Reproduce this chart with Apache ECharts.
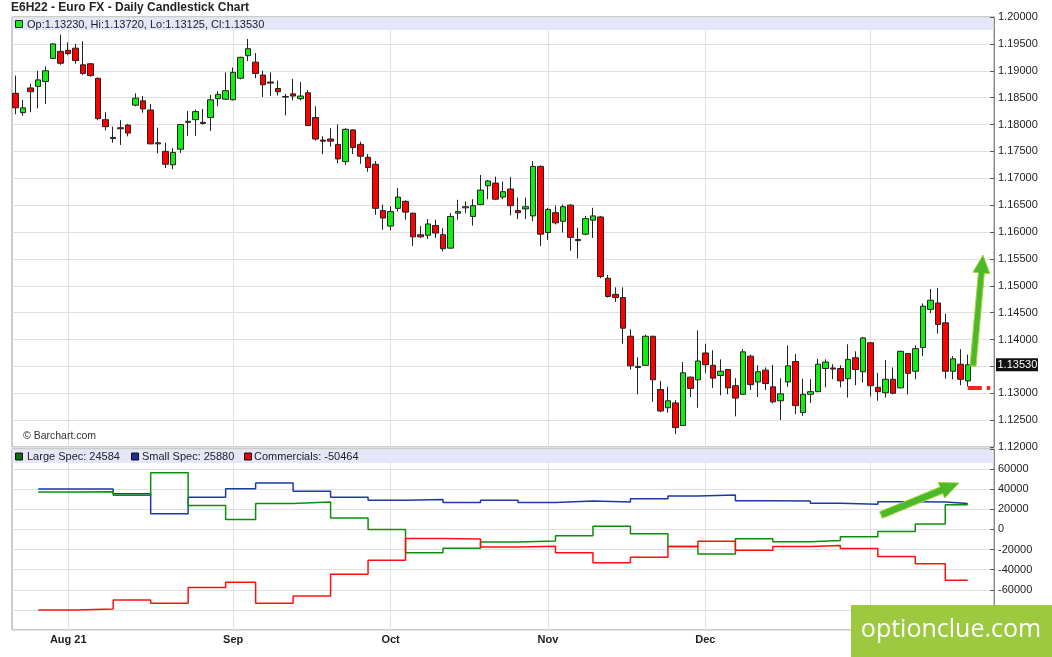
<!DOCTYPE html>
<html style="height: 100%">

<head>
  <meta charset="UTF-8" />
  <title>E6H22 - Euro FX - Daily Candlestick Chart</title>
  <script src="https://cdn.jsdelivr.net/npm/echarts@6/dist/echarts.min.js"></script>
</head>

<body style="height: 100%; margin: 0; background: #fff">
  <div id="main" style="width: 1052px; height: 657px"></div>
  <script>
    // trading sessions (last three are empty space on the right)
    const dates = [
      '2021-07-22', '2021-07-23', '2021-07-26', '2021-07-27', '2021-07-28', '2021-07-29', '2021-07-30',
      '2021-08-02', '2021-08-03', '2021-08-04', '2021-08-05', '2021-08-06', '2021-08-09', '2021-08-10',
      '2021-08-11', '2021-08-12', '2021-08-13', '2021-08-16', '2021-08-17', '2021-08-18', '2021-08-19',
      '2021-08-20', '2021-08-23', '2021-08-24', '2021-08-25', '2021-08-26', '2021-08-27', '2021-08-30',
      '2021-08-31',
      '2021-09-01', '2021-09-02', '2021-09-03', '2021-09-07', '2021-09-08', '2021-09-09', '2021-09-10',
      '2021-09-13', '2021-09-14', '2021-09-15', '2021-09-16', '2021-09-17', '2021-09-20', '2021-09-21',
      '2021-09-22', '2021-09-23', '2021-09-24', '2021-09-27', '2021-09-28', '2021-09-29', '2021-09-30',
      '2021-10-01', '2021-10-04', '2021-10-05', '2021-10-06', '2021-10-07', '2021-10-08', '2021-10-11',
      '2021-10-12', '2021-10-13', '2021-10-14', '2021-10-15', '2021-10-18', '2021-10-19', '2021-10-20',
      '2021-10-21', '2021-10-22', '2021-10-25', '2021-10-26', '2021-10-27', '2021-10-28', '2021-10-29',
      '2021-11-01', '2021-11-02', '2021-11-03', '2021-11-04', '2021-11-05', '2021-11-08', '2021-11-09',
      '2021-11-10', '2021-11-11', '2021-11-12', '2021-11-15', '2021-11-16', '2021-11-17', '2021-11-18',
      '2021-11-19', '2021-11-22', '2021-11-23', '2021-11-24', '2021-11-26', '2021-11-29', '2021-11-30',
      '2021-12-01', '2021-12-02', '2021-12-03', '2021-12-06', '2021-12-07', '2021-12-08', '2021-12-09',
      '2021-12-10', '2021-12-13', '2021-12-14', '2021-12-15', '2021-12-16', '2021-12-17', '2021-12-20',
      '2021-12-21', '2021-12-22', '2021-12-23', '2021-12-27', '2021-12-28', '2021-12-29', '2021-12-30',
      '2021-12-31',
      '2022-01-03', '2022-01-04', '2022-01-05', '2022-01-06', '2022-01-07', '2022-01-10', '2022-01-11',
      '2022-01-12', '2022-01-13', '2022-01-14', '2022-01-18', '2022-01-19', '2022-01-20', '2022-01-21',
      '2022-01-24', '2022-01-25', '2022-01-26'
    ];

    const opens = [
      1.1858, 1.1822, 1.1868, 1.1871, 1.1880, 1.1923, 1.1936, 1.1938, 1.1942, 1.1911,
      1.1913, 1.1886, 1.1809, 1.1776, 1.1794, 1.1799, 1.1836, 1.1844, 1.1827, 1.1766,
      1.1750, 1.1725, 1.1754, 1.1804, 1.1809, 1.1804, 1.1813, 1.1848, 1.1847, 1.1846,
      1.1886, 1.1928, 1.1916, 1.1892, 1.1879, 1.1867, 1.1852, 1.1857, 1.1848, 1.1859,
      1.1813, 1.1771, 1.1773, 1.1763, 1.1731, 1.1790, 1.1763, 1.1739, 1.1726, 1.1640,
      1.1611, 1.1644, 1.1657, 1.1635, 1.1595, 1.1594, 1.1612, 1.1595, 1.1570, 1.1635,
      1.1645, 1.1629, 1.1651, 1.1686, 1.1691, 1.1665, 1.1680, 1.1640, 1.1643, 1.1630,
      1.1722, 1.1599, 1.1636, 1.1620, 1.1650, 1.1586, 1.1596, 1.1622, 1.1628, 1.1514,
      1.1484, 1.1478, 1.1406, 1.1350, 1.1352, 1.1406, 1.1307, 1.1273, 1.1282, 1.1240,
      1.1330, 1.1325, 1.1375, 1.1352, 1.1333, 1.1344, 1.1314, 1.1298, 1.1369, 1.1321,
      1.1343, 1.1312, 1.1286, 1.1321, 1.1359, 1.1264, 1.1298, 1.1303, 1.1346, 1.1347,
      1.1346, 1.1327, 1.1366, 1.1340, 1.1394, 1.1311, 1.1301, 1.1326, 1.1310, 1.1374,
      1.1341, 1.1385, 1.1456, 1.1468, 1.1431, 1.1341, 1.1354, 1.13230
    ];
    const highs = [
      1.1891, 1.1846, 1.1876, 1.1900, 1.1908, 1.1951, 1.1967, 1.1953, 1.1950, 1.1955,
      1.1914, 1.1887, 1.1823, 1.1796, 1.1808, 1.1801, 1.1858, 1.1853, 1.1838, 1.1794,
      1.1766, 1.1756, 1.1801, 1.1825, 1.1828, 1.1829, 1.1855, 1.1862, 1.1897, 1.1906,
      1.1926, 1.1959, 1.1933, 1.1900, 1.1897, 1.1882, 1.1857, 1.1885, 1.1879, 1.1864,
      1.1834, 1.1778, 1.1793, 1.1800, 1.1793, 1.1791, 1.1768, 1.1745, 1.1732, 1.1651,
      1.1648, 1.1682, 1.1659, 1.1636, 1.1611, 1.1624, 1.1623, 1.1607, 1.1635, 1.1660,
      1.1657, 1.1661, 1.1706, 1.1697, 1.1703, 1.1694, 1.1702, 1.1664, 1.1664, 1.1732,
      1.1724, 1.1645, 1.1649, 1.1651, 1.1652, 1.1608, 1.1630, 1.1645, 1.1630, 1.1520,
      1.1497, 1.1497, 1.1419, 1.1367, 1.1409, 1.1407, 1.1323, 1.1312, 1.1287, 1.1358,
      1.1331, 1.1417, 1.1392, 1.1380, 1.1363, 1.1345, 1.1328, 1.1382, 1.1372, 1.1352,
      1.1348, 1.1353, 1.1328, 1.1389, 1.1373, 1.1327, 1.1326, 1.1364, 1.1363, 1.1354,
      1.1352, 1.1391, 1.1378, 1.1405, 1.1395, 1.1338, 1.1362, 1.1348, 1.1379, 1.1375,
      1.1389, 1.1467, 1.1494, 1.1496, 1.1448, 1.1369, 1.1382, 1.13720
    ];
    const lows = [
      1.1819, 1.1816, 1.1823, 1.1830, 1.1838, 1.1922, 1.1911, 1.1929, 1.1913, 1.1892,
      1.1889, 1.1808, 1.1789, 1.1766, 1.1762, 1.1778, 1.1834, 1.1822, 1.1763, 1.1746,
      1.1719, 1.1717, 1.1747, 1.1779, 1.1779, 1.1800, 1.1788, 1.1834, 1.1846, 1.1845,
      1.1884, 1.1918, 1.1886, 1.1851, 1.1853, 1.1854, 1.1817, 1.1845, 1.1845, 1.1797,
      1.1770, 1.1745, 1.1759, 1.1728, 1.1725, 1.1745, 1.1727, 1.1712, 1.1632, 1.1604,
      1.1603, 1.1638, 1.1623, 1.1574, 1.1589, 1.1587, 1.1589, 1.1564, 1.1569, 1.1623,
      1.1635, 1.1612, 1.1650, 1.1661, 1.1660, 1.1661, 1.1631, 1.1624, 1.1624, 1.1620,
      1.1574, 1.1585, 1.1614, 1.1599, 1.1565, 1.1551, 1.1594, 1.1589, 1.1514, 1.1478,
      1.1470, 1.1392, 1.1344, 1.1298, 1.1351, 1.1284, 1.1265, 1.1264, 1.1224, 1.1239,
      1.1293, 1.1273, 1.1338, 1.1310, 1.1296, 1.1298, 1.1257, 1.1297, 1.1306, 1.1293,
      1.1306, 1.1281, 1.1250, 1.1312, 1.1261, 1.1258, 1.1282, 1.1302, 1.1311, 1.1326,
      1.1311, 1.1292, 1.1315, 1.1320, 1.1294, 1.1286, 1.1292, 1.1298, 1.1309, 1.1298,
      1.1326, 1.1369, 1.1449, 1.1411, 1.1327, 1.1326, 1.1315, 1.13125
    ];
    const closes = [
      1.1831, 1.1831, 1.1861, 1.1883, 1.1900, 1.1950, 1.1914, 1.1932, 1.1919, 1.1895,
      1.1891, 1.1811, 1.1796, 1.1774, 1.1792, 1.1784, 1.1849, 1.1829, 1.1764, 1.1764,
      1.1726, 1.1748, 1.1800, 1.1806, 1.1824, 1.1802, 1.1846, 1.1856, 1.1863, 1.1897,
      1.1925, 1.1941, 1.1895, 1.1874, 1.1877, 1.1861, 1.1851, 1.1853, 1.1853, 1.1798,
      1.1773, 1.1769, 1.1769, 1.1736, 1.1791, 1.1757, 1.1741, 1.1720, 1.1644, 1.1626,
      1.1638, 1.1665, 1.1637, 1.1591, 1.1591, 1.1615, 1.1598, 1.1569, 1.1629, 1.1638,
      1.1647, 1.1649, 1.1678, 1.1695, 1.1661, 1.1675, 1.1649, 1.1636, 1.1647, 1.1722,
      1.1596, 1.1642, 1.1617, 1.1647, 1.1590, 1.1584, 1.1625, 1.1630, 1.1517, 1.1480,
      1.1478, 1.1421, 1.1351, 1.1348, 1.1406, 1.1325, 1.1267, 1.1286, 1.1236, 1.1338,
      1.1309, 1.1360, 1.1353, 1.1328, 1.1341, 1.1310, 1.1291, 1.1377, 1.1316, 1.1340,
      1.1318, 1.1284, 1.1299, 1.1351, 1.1277, 1.1298, 1.1303, 1.1354, 1.1358, 1.1345,
      1.1323, 1.1363, 1.1344, 1.1403, 1.1314, 1.1303, 1.1326, 1.1300, 1.1378, 1.1337,
      1.1383, 1.1462, 1.1473, 1.1428, 1.1341, 1.1364, 1.1326, 1.13530
    ];
    const stopLevel = 1.1310;

    // weekly Commitments of Traders net positions (report dates)
    const cotDates = [
      '2021-07-27', '2021-08-03', '2021-08-10', '2021-08-17', '2021-08-24', '2021-08-31', '2021-09-07',
      '2021-09-14', '2021-09-21', '2021-09-28', '2021-10-05', '2021-10-12', '2021-10-19', '2021-10-26',
      '2021-11-02', '2021-11-09', '2021-11-16', '2021-11-23', '2021-11-30', '2021-12-07', '2021-12-14',
      '2021-12-21', '2021-12-28', '2022-01-04', '2022-01-11', '2022-01-18'
    ];
    const largeSpec = [
      37300, 37500, 34000, 56400, 23700, 9900, 25700, 27400, 11500, 0, -23100, -18800, -12500,
      -11600, -6300, 3300, -4300, -17000, -24300, -9300, -12300, -11000, -7300, -2000, 5300, 24584
    ];
    const smallSpec = [
      40200, 40300, 35600, 15500, 32000, 40500, 46200, 37900, 32000, 29000, 29700, 26700, 29000,
      26700, 28300, 27300, 30600, 33300, 34300, 28600, 28300, 26000, 25000, 27600, 27300, 25880
    ];
    const commercials = [
      -80100, -79100, -70200, -73500, -57700, -52400, -73500, -66300, -44500, -30700, -8900, -9600,
      -17500, -16800, -23300, -33000, -27600, -17000, -11700, -20600, -17000, -16000, -19000, -27000,
      -34000, -50464
    ];

    const FONT = 'Arial, "Liberation Sans", sans-serif';
    const lastIdx = closes.length - 1;

    // month starts -> labels
    const monthNames = ['Jan', 'Feb', 'Mar', 'Apr', 'May', 'Jun', 'Jul', 'Aug', 'Sep', 'Oct', 'Nov', 'Dec'];
    const monthLabel = {};
    let firstMonth = true;
    dates.forEach((d, i) => {
      if (i > 0 && d.slice(5, 7) !== dates[i - 1].slice(5, 7)) {
        const m = +d.slice(5, 7);
        let lab = monthNames[m - 1];
        if (firstMonth || m === 1) lab += ' ' + d.slice(2, 4);
        monthLabel[d] = lab;
        firstMonth = false;
      }
    });
    const isMonthStart = (i) => monthLabel[dates[i]] !== undefined;

    const candles = opens.map((o, i) => [o, closes[i], lows[i], highs[i]]);
    const stepData = (vals) => {
      const pts = cotDates.map((d, i) => [d, vals[i]]);
      pts.push([dates[lastIdx], vals[vals.length - 1]]);
      return pts;
    };

    function arrow(x0, y0, x1, y1, shaft, headLen, headW) {
      const dx = x1 - x0, dy = y1 - y0, len = Math.hypot(dx, dy);
      const ux = dx / len, uy = dy / len, px = -uy, py = ux;
      const bx = x1 - ux * headLen, by = y1 - uy * headLen;
      return [
        [x0 + px * shaft / 2, y0 + py * shaft / 2],
        [bx + px * shaft / 2, by + py * shaft / 2],
        [bx + px * headW / 2, by + py * headW / 2],
        [x1, y1],
        [bx - px * headW / 2, by - py * headW / 2],
        [bx - px * shaft / 2, by - py * shaft / 2],
        [x0 - px * shaft / 2, y0 - py * shaft / 2]
      ];
    }

    const txt = (text, x, y, extra, z) => ({
      type: 'text', z: z || 50,
      style: Object.assign({ text: text, x: x, y: y, font: '11px ' + FONT, fill: '#222', textVerticalAlign: 'middle' }, extra || {})
    });
    const box = (x, y, w, h, fill, stroke) => ({
      type: 'rect', z: 50,
      shape: { x: x, y: y, width: w, height: h },
      style: { fill: fill, stroke: stroke || null, lineWidth: 1 }
    });

    const chart = echarts.init(document.getElementById('main'));

    const option = {
      animation: false,
      backgroundColor: '#fff',
      grid: [
        { left: 12, right: 58, top: 17, height: 430, show: true, borderColor: '#999', borderWidth: 1 },
        { left: 12, right: 58, top: 449, height: 181, show: true, borderColor: '#999', borderWidth: 1 }
      ],
      xAxis: [0, 1].map((g) => ({
        type: 'category',
        gridIndex: g,
        data: dates,
        boundaryGap: true,
        axisLine: { show: false },
        axisTick: { show: false },
        axisLabel: {
          show: g === 1,
          interval: (i) => isMonthStart(i),
          formatter: (v) => monthLabel[v] || '',
          fontFamily: FONT, fontSize: 11, fontWeight: 'bold', color: '#222', margin: 4
        },
        splitLine: {
          show: true,
          interval: (i) => isMonthStart(i),
          alignWithLabel: true,
          lineStyle: { color: '#e0e0e0', width: 1 }
        }
      })),
      yAxis: [
        {
          type: 'value', gridIndex: 0, position: 'right',
          min: 1.12, max: 1.2, interval: 0.005,
          axisLine: { show: true, lineStyle: { color: '#888' } },
          axisTick: { show: true, inside: true, length: 4, lineStyle: { color: '#555' } },
          axisLabel: { formatter: (v) => v.toFixed(5), fontFamily: FONT, fontSize: 11, color: '#222', margin: 4 },
          splitLine: { lineStyle: { color: '#e0e0e0' } }
        },
        {
          type: 'value', gridIndex: 1, position: 'right',
          min: -100000, max: 80000, interval: 20000,
          axisLine: { show: true, lineStyle: { color: '#888' } },
          axisTick: { show: true, inside: true, length: 4, lineStyle: { color: '#555' } },
          axisLabel: {
            formatter: (v) => (v >= 80000 || v <= -100000 ? '' : String(v)),
            fontFamily: FONT, fontSize: 11, color: '#222', margin: 4
          },
          splitLine: { lineStyle: { color: '#e0e0e0' } }
        }
      ],
      series: [
        {
          type: 'candlestick',
          xAxisIndex: 0, yAxisIndex: 0,
          data: candles,
          barWidth: 6,
          itemStyle: {
            color: '#11ee11', color0: '#ff0000',
            borderColor: '#222', borderColor0: '#222', borderColorDoji: '#222', borderWidth: 1
          },
          markLine: {
            silent: true, symbol: 'none', animation: false,
            data: [
              [
                { coord: [lastIdx, stopLevel], lineStyle: { color: '#ff2020', width: 4, type: [14, 5] }, label: { show: false } },
                { coord: [dates.length - 1, stopLevel] }
              ]
            ]
          }
        },
        {
          name: 'Small Spec', type: 'line', step: 'end', xAxisIndex: 1, yAxisIndex: 1,
          data: stepData(smallSpec), showSymbol: false,
          lineStyle: { color: '#1b3aa6', width: 1.5 }
        },
        {
          name: 'Large Spec', type: 'line', step: 'end', xAxisIndex: 1, yAxisIndex: 1,
          data: stepData(largeSpec), showSymbol: false,
          lineStyle: { color: '#0b8f0b', width: 1.5 }
        },
        {
          name: 'Commercials', type: 'line', step: 'end', xAxisIndex: 1, yAxisIndex: 1,
          data: stepData(commercials), showSymbol: false,
          lineStyle: { color: '#ff1010', width: 1.5 }
        }
      ],
      graphic: [
        txt('E6H22 - Euro FX - Daily Candlestick Chart', 11, 8, { font: 'bold 12px ' + FONT }),
        // price legend strip
        box(12.5, 18, 981, 12, '#e6e6fa'),
        box(15.5, 20.5, 7, 7, '#11ee11', '#222'),
        txt('Op:' + opens[lastIdx].toFixed(5) + ', Hi:' + highs[lastIdx].toFixed(5) +
          ', Lo:' + lows[lastIdx].toFixed(5) + ', Cl:' + closes[lastIdx].toFixed(5), 27, 24.5),
        txt('\u00a9 Barchart.com', 23, 436, { font: '10.5px ' + FONT, fill: '#333' }),
        // COT legend strip
        box(12.5, 450, 981, 13, '#e6e6fa'),
        box(15.5, 453, 7, 7, '#0b6f0b', '#111'),
        txt('Large Spec: ' + largeSpec[largeSpec.length - 1], 27, 457),
        box(131.5, 453, 7, 7, '#1b3096', '#111'),
        txt('Small Spec: ' + smallSpec[smallSpec.length - 1], 142, 457),
        box(244.5, 453, 7, 7, '#ee0000', '#111'),
        txt('Commercials: ' + commercials[commercials.length - 1], 254, 457),
        // annotation arrows
        {
          type: 'polygon', z: 60,
          shape: { points: arrow(973, 366, 983, 255, 6, 18, 17) },
          style: { fill: '#4cb82a', stroke: '#a6d63a', lineWidth: 1 }
        },
        {
          type: 'polygon', z: 60,
          shape: { points: arrow(881, 515, 959, 483, 7, 19, 17) },
          style: { fill: '#4cb82a', stroke: '#a6d63a', lineWidth: 1 }
        },
        // site badge
        {
          type: 'rect', z: 100, zlevel: 1,
          shape: { x: 851, y: 605, width: 201, height: 52 },
          style: { fill: '#9cc93f' }
        },
        {
          type: 'text', z: 101, zlevel: 1,
          style: {
            text: 'optionclue.com', x: 951, y: 630, fill: '#fff',
            font: '25px "Open Sans", Arial, sans-serif', textAlign: 'center', textVerticalAlign: 'middle'
          }
        }
      ]
    };

    chart.setOption(option);

    // last-price tag on the price axis
    const tagY = chart.convertToPixel({ yAxisIndex: 0 }, closes[lastIdx]);
    chart.setOption({
      graphic: option.graphic.concat([
        { type: 'rect', z: 70, zlevel: 1, shape: { x: 996, y: tagY - 6.5, width: 42, height: 13 }, style: { fill: '#111' } },
        Object.assign(txt(closes[lastIdx].toFixed(5), 997.5, tagY + 0.5, { fill: '#fff' }, 71), { zlevel: 1 })
      ])
    });
  </script>
</body>

</html>
